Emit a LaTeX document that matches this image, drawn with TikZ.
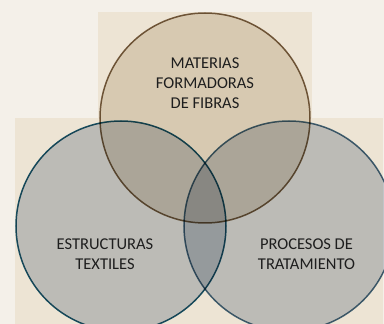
\documentclass[tikz,border=0pt]{standalone}
\usepackage{fontspec}
\setmainfont{Carlito}
\usepackage{xcolor}
\usepackage{tikz}
\usetikzlibrary{positioning}
\definecolor{vpage}{HTML}{F4F0E9}
\definecolor{vpanel}{HTML}{EDE4D4}
\definecolor{vtan}{HTML}{E8E1D6}
\definecolor{vgray}{HTML}{CBD2DB}
\definecolor{vbrown}{HTML}{7D6549}
\definecolor{vteal}{HTML}{1C5A75}
\definecolor{vslate}{HTML}{4A6E88}
\definecolor{vtext}{HTML}{1E1E1E}

\begin{document}
\begin{tikzpicture}[
    x=1pt, y=1pt,
    set/.style={circle, minimum size=210pt, inner sep=0pt, line width=1.5pt},
    lbl/.style={align=center, text=vtext, font=\fontsize{16.5}{20}\selectfont, inner sep=0pt}
  ]
  \useasboundingbox (0,0) rectangle (384,324);
  \fill[vpage] (0,0) rectangle (384,324);
  \fill[vpanel] (98,206) rectangle (312,312);
  \fill[vpanel] (15,0) rectangle (383,205.5);
  \begin{scope}[blend mode=multiply]
    \node[set, fill=vtan, draw=vbrown] (fib) at (205,206) {};
    \node[set, fill=vgray, draw=vslate] (pro) at (289,98) {};
    \node[set, fill=vgray, draw=vteal] (est) at (121,98) {};
  \end{scope}
  \node[lbl] (tfib) at (205,241) {MATERIAS\\FORMADORAS\\DE FIBRAS};
  \node[lbl] (test) at (105,70) {ESTRUCTURAS\\TEXTILES};
  \node[lbl] (tpro) at (306.5,70) {PROCESOS DE\\TRATAMIENTO};
\end{tikzpicture}
\end{document}
